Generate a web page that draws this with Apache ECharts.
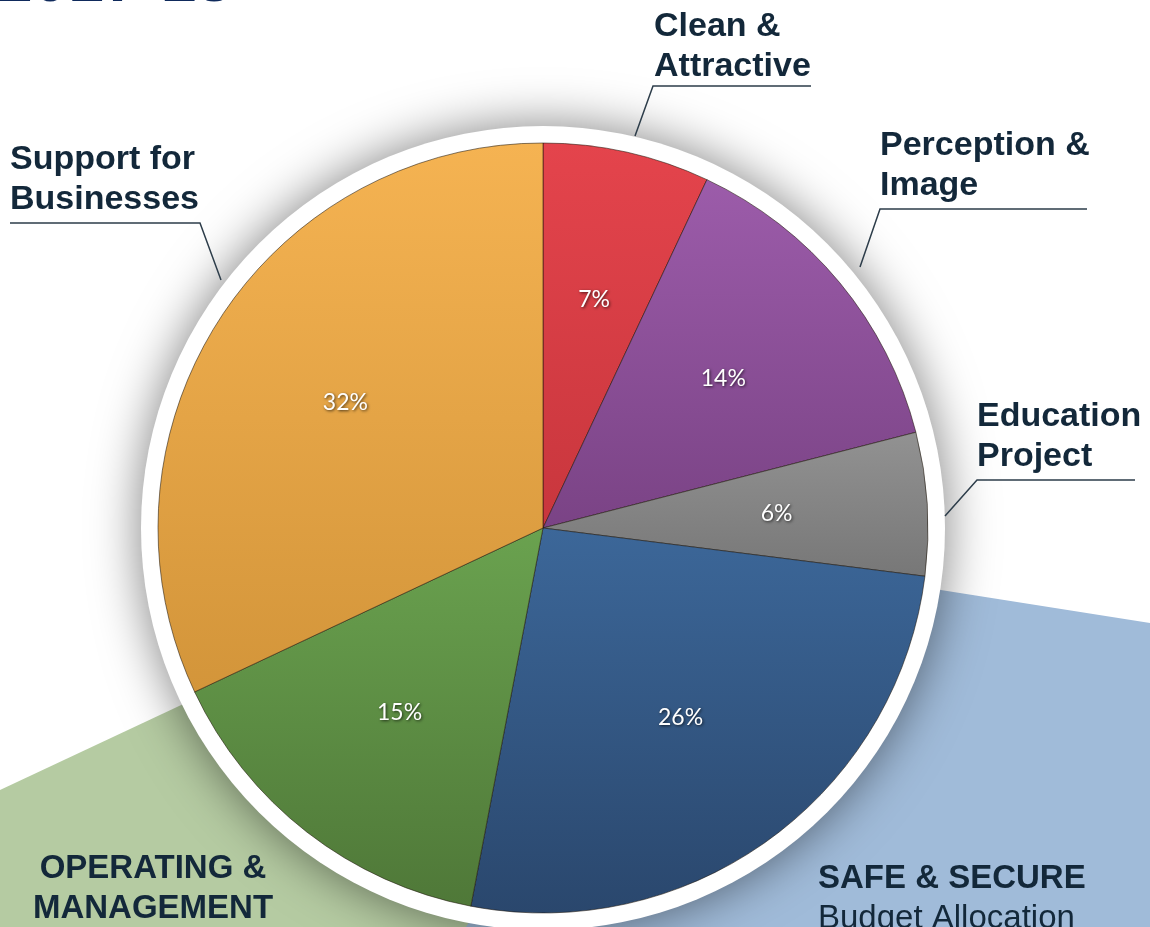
<!DOCTYPE html>
<html>
<head>
<meta charset="utf-8">
<style>
  html, body { margin: 0; padding: 0; background: #fff; }
  #chart { width: 1150px; height: 927px; }
</style>
<script src="https://cdn.jsdelivr.net/npm/echarts@6/dist/echarts.min.js"></script>
</head>
<body>
<div id="chart"></div>
<script>
// data (share of budget, %)
var categories = ['Clean & Attractive', 'Perception & Image', 'Education Project',
                  'Safe & Secure', 'Operating & Management', 'Support for Businesses'];
var shares = [7, 14, 6, 26, 15, 32];

// slice colours (top, bottom of gradient)
var topColors = ['#e4444c', '#9c5caa', '#929292', '#3c6799', '#6aa24f', '#f5b352'];
var botColors = ['#c8363d', '#7a4385', '#777777', '#2a476d', '#4f7838', '#d3953a'];

// where the outside names go: [left, top, leader start x, y, elbow x, y, underline end x]
var labelSpots = [
  [654, 7, 635, 136, 653, 86, 811],
  [880, 126, 860, 267, 880, 209, 1087],
  [977, 397, 945, 516, 977, 480, 1135],
  null,
  null,
  [10, 140, 221, 280, 200, 223, 10]
];

var C = [543, 528];
var R = 385;
var font = 'Liberation Sans, Arial, sans-serif';

var myChart = echarts.init(document.getElementById('chart'));

var mainData = categories.map(function (name, i) {
  var d = {
    name: name,
    value: shares[i],
    itemStyle: {
      color: new echarts.graphic.LinearGradient(0, 0, 0, 1, [
        { offset: 0, color: topColors[i] },
        { offset: 1, color: botColors[i] }
      ])
    }
  };
  if (!labelSpots[i]) {
    d.label = { show: false };
    d.labelLine = { show: false };
  }
  return d;
});

var option = {
  animation: false,
  graphic: [
    { type: 'polygon', z: 0, shape: { points: [[0, 790], [420, 593], [470, 927], [0, 927]] },
      style: { fill: '#b5cba2' } },
    { type: 'polygon', z: 0, shape: { points: [[700, 552], [1150, 623], [1150, 927], [466, 927]] },
      style: { fill: '#a0bbd9' } },
    { type: 'text', z: 5, style: { text: '2017-18', x: -3, y: -17, fill: '#0f2a5c',
      font: 'bold 64px ' + font, textVerticalAlign: 'middle' } },
    { type: 'text', z: 5, style: { text: 'OPERATING &', x: 153, y: 869, fill: '#13283a',
      font: 'bold 33px ' + font, textAlign: 'center', textVerticalAlign: 'middle' } },
    { type: 'text', z: 5, style: { text: 'MANAGEMENT', x: 153, y: 909, fill: '#13283a',
      font: 'bold 33px ' + font, textAlign: 'center', textVerticalAlign: 'middle' } },
    { type: 'text', z: 5, style: { text: 'SAFE & SECURE', x: 818, y: 879, fill: '#13283a',
      font: 'bold 33px ' + font, textVerticalAlign: 'middle' } },
    { type: 'text', z: 5, style: { text: 'Budget Allocation', x: 818, y: 919, fill: '#13283a',
      font: '33px ' + font, textVerticalAlign: 'middle' } }
  ],
  series: [
    {
      // white rim with its soft shadow
      type: 'pie',
      z: 1,
      silent: true,
      center: C,
      radius: R + 17,
      label: { show: false },
      labelLine: { show: false },
      itemStyle: { color: '#ffffff', shadowBlur: 50, shadowColor: 'rgba(0,0,0,0.5)' },
      data: [1]
    },
    {
      name: 'Budget',
      type: 'pie',
      z: 3,
      center: C,
      radius: R,
      startAngle: 90,
      clockwise: true,
      avoidLabelOverlap: false,
      itemStyle: { borderColor: 'rgba(30,20,10,0.55)', borderWidth: 1 },
      label: {
        show: true,
        position: 'outside',
        color: '#13283a',
        fontFamily: font,
        fontWeight: 'bold',
        fontSize: 34,
        lineHeight: 40,
        formatter: function (p) {
          var k = p.name.lastIndexOf(' ');
          return p.name.slice(0, k) + '\n' + p.name.slice(k + 1);
        }
      },
      labelLine: { show: true, lineStyle: { color: '#2d3d4a', width: 1.5 } },
      labelLayout: function (params) {
        var s = labelSpots[params.dataIndex];
        if (!s) return {};
        return {
          x: s[0], y: s[1], align: 'left', verticalAlign: 'top',
          labelLinePoints: [[s[2], s[3]], [s[4], s[5]], [s[6], s[5]]]
        };
      },
      data: mainData
    },
    {
      // percentage labels, placed at 60% of the radius
      type: 'pie',
      z: 4,
      silent: true,
      center: C,
      radius: R * 1.2,
      startAngle: 90,
      clockwise: true,
      itemStyle: { color: 'rgba(0,0,0,0)' },
      label: {
        show: true,
        position: 'inside',
        formatter: '{c}%',
        color: '#ffffff',
        fontFamily: 'Lato, sans-serif',
        fontSize: 23,
        textShadowColor: 'rgba(0,0,0,0.7)',
        textShadowBlur: 3,
        textShadowOffsetX: 1,
        textShadowOffsetY: 1
      },
      labelLine: { show: false },
      data: categories.map(function (name, i) { return { name: name, value: shares[i] }; })
    }
  ]
};

myChart.setOption(option);
</script>
</body>
</html>
